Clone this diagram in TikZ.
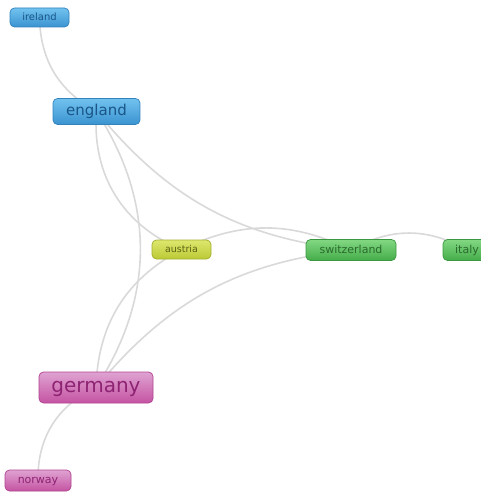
\documentclass[tikz,border=0pt]{standalone}
\usepackage{fontspec}
\setmainfont{DejaVu Sans}
\usetikzlibrary{backgrounds}

\definecolor{skyTop}{HTML}{72C2EF}
\definecolor{skyBottom}{HTML}{3A93D0}
\definecolor{skyLine}{HTML}{3282BC}
\definecolor{skyText}{HTML}{1A5688}
\definecolor{leafTop}{HTML}{82D882}
\definecolor{leafBottom}{HTML}{45AC4A}
\definecolor{leafLine}{HTML}{3B9840}
\definecolor{leafText}{HTML}{2A6A2D}
\definecolor{limeTop}{HTML}{DDE76E}
\definecolor{limeBottom}{HTML}{BCCA35}
\definecolor{limeLine}{HTML}{A2AE2C}
\definecolor{limeText}{HTML}{5C6314}
\definecolor{roseTop}{HTML}{DFA3D2}
\definecolor{roseBottom}{HTML}{C553A2}
\definecolor{roseLine}{HTML}{B0448F}
\definecolor{roseText}{HTML}{8E2373}
\definecolor{linkGray}{HTML}{D9D9D9}

\begin{document}
\begin{tikzpicture}[x=1pt, y=1pt,
    country/.style={draw, rounded corners=4.5pt, line width=0.7pt, inner sep=0pt, text depth=0pt},
    skyNode/.style={country, draw=skyLine, top color=skyTop, bottom color=skyBottom, text=skyText},
    leafNode/.style={country, draw=leafLine, top color=leafTop, bottom color=leafBottom, text=leafText},
    limeNode/.style={country, draw=limeLine, top color=limeTop, bottom color=limeBottom, text=limeText},
    roseNode/.style={country, draw=roseLine, top color=roseTop, bottom color=roseBottom, text=roseText},
    link/.style={draw=linkGray, line width=1.6pt}]
    \useasboundingbox (0,0) rectangle (481,-492);

    % Countries
    \node[skyNode, minimum width=59, minimum height=19, text height=6pt,
      font=\fontsize{10}{12}\selectfont] (ireland) at (39.5,-17.5) {ireland};
    \node[skyNode, minimum width=87, minimum height=26, text height=8pt,
      font=\fontsize{15}{18}\selectfont] (england) at (96.5,-111.5) {england};
    \node[limeNode, minimum width=59, minimum height=19, text height=5.5pt,
      font=\fontsize{9.5}{11}\selectfont] (austria) at (181.5,-249.5) {austria};
    \node[leafNode, minimum width=90, minimum height=21, text height=7.5pt,
      font=\fontsize{11}{13}\selectfont] (switzerland) at (351,-250) {switzerland};
    \node[leafNode, minimum width=48, minimum height=21, text height=7.5pt,
      font=\fontsize{11}{13}\selectfont] (italy) at (467,-250) {italy};
    \node[roseNode, minimum width=114, minimum height=31, text height=9pt,
      font=\fontsize{20}{24}\selectfont] (germany) at (96,-387.5) {germany};
    \node[roseNode, minimum width=66, minimum height=21, text height=6pt,
      font=\fontsize{11}{13}\selectfont] (norway) at (38,-480.5) {norway};

    % Links
    \begin{scope}[on background layer]
      \draw[link] (ireland.center) to[bend right=30] (england.center);
      \draw[link] (england.center) to[bend left=33] (germany.center);
      \draw[link] (england.center) to[bend right=36] (austria.center);
      \draw[link] (england.center) to[bend right=22] (switzerland.center);
      \draw[link] (austria.center) to[bend left=26] (switzerland.center);
      \draw[link] (austria.center) to[bend right=30] (germany.center);
      \draw[link] (switzerland.center) to[bend right=22] (germany.center);
      \draw[link] (switzerland.center) to[bend left=30] (italy.center);
      \draw[link] (germany.center) to[bend right=33] (norway.center);
    \end{scope}
\end{tikzpicture}
\end{document}
